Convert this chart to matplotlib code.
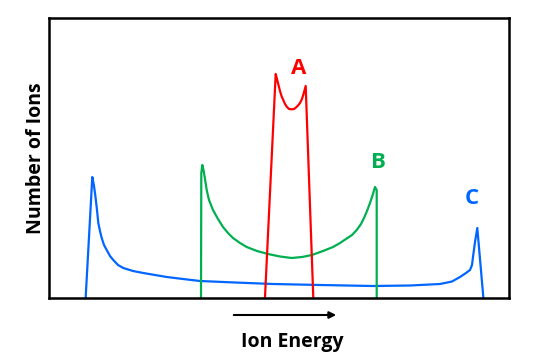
import matplotlib
matplotlib.use('Agg')
import matplotlib.pyplot as plt

# curve C (blue): energy vs. number of ions (arbitrary units)
c_x = [85.7, 92.3, 94.0, 95.5, 97.0, 98.3, 100.0, 101.7, 104.0, 106.7, 110.0, 113.3, 118.0, 123.3,
       133.0, 143.3, 155.0, 166.7, 183.0, 200, 235, 273, 320, 373, 410, 440, 452, 460, 466, 470, 472, 473, 475, 477.3, 483.3]
c_y = [1, 121, 112, 101, 88, 75, 67, 60, 53, 48, 42, 38, 33, 30,
       27, 25, 23, 21, 19, 17, 15.5, 14, 13, 12, 12.5, 14, 16.5, 21, 25, 28, 33, 41, 56, 70, 1]

# curve B (green)
b_x = [201, 201.3, 202.3, 203.5, 204.5, 206.7, 209, 213, 218, 223, 228, 233, 240, 246.7, 257, 268, 280, 291.7,
       302, 312, 323, 333, 340, 346, 352, 356.7, 361, 364, 367, 370, 373, 375, 376.7, 376.7]
b_y = [0, 125, 133, 128, 122, 108, 98, 88, 79, 71, 65, 60, 55, 51, 47, 44, 41.5, 40,
       41, 43, 47, 51, 55, 59, 63, 68, 74, 80, 87, 95, 104, 111, 108, 0]

# curve A (red)
a_x = [265, 275.7, 277, 278.5, 280, 281.5, 283.3, 285, 287, 289, 291.7, 294, 296, 298, 300, 302, 303.5, 305.7, 313.3]
a_y = [1, 224, 219, 213, 207, 202, 198, 194, 191, 189, 188.7, 189, 190.5, 192.5, 195, 199, 204, 212, 0]

labels = ['A', 'B', 'C']
label_x = [298.3, 378.3, 471.7]
label_y = [230, 136, 100]

col_a = '#FF0000'
col_b = '#00B050'
col_c = '#0066FF'

font = ['Open Sans', 'DejaVu Sans']

fig = plt.figure(figsize=(5.34, 3.61), dpi=100)
ax = fig.add_axes([49 / 534, 63 / 361, 460 / 534, 280 / 361])

ax.plot(c_x, c_y, color=col_c, lw=1.6, solid_joinstyle='round')
ax.plot(b_x, b_y, color=col_b, lw=1.6, solid_joinstyle='round')
ax.plot(a_x, a_y, color=col_a, lw=1.6, solid_joinstyle='round')

for lab, x, y, c in zip(labels, label_x, label_y, [col_a, col_b, col_c]):
    ax.text(x, y, lab, color=c, fontsize=16, fontweight='bold', family=font,
            ha='center', va='center')

ax.set_xlim(49, 509)
ax.set_ylim(0, 280)
ax.set_xticks([])
ax.set_yticks([])
for s in ax.spines.values():
    s.set_linewidth(1.8)

ax.set_ylabel('Number of Ions', fontsize=14, fontweight='bold', family=font, labelpad=2)

# arrow + x label below the axes
fig.text(292 / 534, 1 - 342 / 361, 'Ion Energy', fontsize=14, fontweight='bold',
         family=font, ha='center', va='center')
fig.add_artist(matplotlib.patches.FancyArrowPatch(
    (231 / 534, 1 - 315 / 361), (339 / 534, 1 - 315 / 361),
    transform=fig.transFigure, arrowstyle='-|>', mutation_scale=10,
    color='black', lw=1.5))

fig.savefig('out.png', dpi=100)
